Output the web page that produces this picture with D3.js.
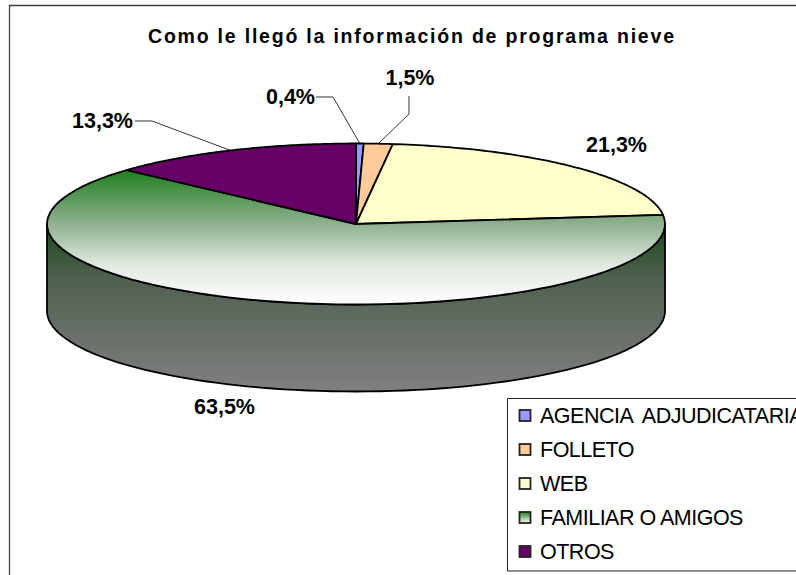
<!DOCTYPE html>
<html><head><meta charset="utf-8">
<script src="https://cdnjs.cloudflare.com/ajax/libs/d3/7.8.5/d3.min.js"></script>
<style>html,body{margin:0;padding:0;background:#fff}svg{display:block}text{font-family:"Liberation Sans",Arial,sans-serif;fill:#000}</style>
</head><body><div id="c"></div>
<script>
const categories = ["AGENCIA  ADJUDICATARIA","FOLLETO","WEB","FAMILIAR O AMIGOS","OTROS"];
const values = [0.4,1.5,21.3,63.5,13.3];
const valueLabels = ["0,4%","1,5%","21,3%","63,5%","13,3%"];
const colors = ["#9999ff","#ffcc99","#ffffcc","url(#gTop)","#660066"];
const title = "Como le llegó la información de programa nieve";

const W=796,H=575,cx=356,cy=224,rx=309,ry=80.5,depth=87;
const svg=d3.select("#c").append("svg").attr("width",W).attr("height",H);
const defs=svg.append("defs");
function grad(id,stops,y1,y2,units){
  const g=defs.append("linearGradient").attr("id",id).attr("gradientUnits",units||"userSpaceOnUse")
    .attr("x1",0).attr("x2",0).attr("y1",y1).attr("y2",y2);
  stops.forEach(s=>g.append("stop").attr("offset",s[0]).attr("stop-color",s[1]));
}
grad("gTop",[[0,"#1f7f1f"],[0.4,"#8fb08f"],[0.7,"#dfe8df"],[1,"#ffffff"]],cy-54,cy+ry);
grad("gSide",[[0,"#1d4a1d"],[0.3,"#4f5f4f"],[1,"#808080"]],cy+4,cy+ry+depth);
grad("gLeg",[[0,"#1f7f1f"],[1,"#ffffff"]],0,1,"objectBoundingBox");

// frame
svg.append("path").attr("d",`M9.5,${H} V5.5 H${W}`).attr("fill","none").attr("stroke","#404040").attr("stroke-width",1.3);

// title
svg.append("text").attr("x",148).attr("y",43).attr("font-size",19.5).attr("font-weight","bold")
  .attr("textLength",526).attr("lengthAdjust","spacing").text(title);

const arcs=d3.pie().sort(null).value(d=>d)(values);
const px=t=>cx+rx*Math.sin(t), py=t=>cy-ry*Math.cos(t);
const line=d3.line();
const sample=(a,b)=>d3.range(0,81).map(i=>a+(b-a)*i/80);

// side wall (front half of the ellipse, from the right edge to the left edge)
const front=sample(Math.PI/2,3*Math.PI/2);
const wall=[...front.map(t=>[px(t),py(t)]),...front.slice().reverse().map(t=>[px(t),py(t)+depth])];
svg.append("path").attr("d",line(wall)+"Z").attr("fill","url(#gSide)").attr("stroke","#000").attr("stroke-width",1.8).attr("stroke-linejoin","round");

// top face slices
svg.selectAll("path.slice").data(arcs).join("path").attr("class","slice")
  .attr("d",d=>line([[cx,cy],...sample(d.startAngle,d.endAngle).map(t=>[px(t),py(t)])])+"Z")
  .attr("fill",(d,i)=>colors[i]).attr("stroke","#000").attr("stroke-width",1.8).attr("stroke-linejoin","round");

// leader lines
const leaders=[[0,[[333,97],[316,97]]],[1,[[409,114],[409,96]]],[4,[[152,121],[135,121]]]];
leaders.forEach(([i,pts])=>{
  const m=(arcs[i].startAngle+arcs[i].endAngle)/2;
  svg.append("path").attr("d",line([[px(m),py(m)],...pts])).attr("fill","none").attr("stroke","#000").attr("stroke-width",0.8);
});

// value labels
const labelPos=[[290.5,104],[410,85],[616.5,152],[224.5,414],[102.5,128]];
svg.selectAll("text.val").data(valueLabels).join("text").attr("class","val")
  .attr("x",(d,i)=>labelPos[i][0]).attr("y",(d,i)=>labelPos[i][1])
  .attr("text-anchor","middle").attr("font-size",21.5).attr("font-weight","bold").text(d=>d);

// legend
svg.append("path").attr("d",`M${W},398.5 H507.5 V571 H${W}`).attr("fill","#fff").attr("stroke","#222").attr("stroke-width",1);
const rowY=d3.scalePoint().domain(categories).range([415.5,551.5]);
const leg=svg.selectAll("g.leg").data(categories).join("g").attr("class","leg").attr("transform",d=>`translate(0,${rowY(d)})`);
leg.append("rect").attr("x",519.5).attr("y",-5.5).attr("width",11).attr("height",11)
  .attr("fill",(d,i)=>i===3?"url(#gLeg)":colors[i]).attr("stroke","#222").attr("stroke-width",1.8);
leg.append("text").attr("x",540).attr("y",7.5).attr("font-size",21.5).attr("letter-spacing",-0.5).style("white-space","pre").text(d=>d);
</script></body></html>
